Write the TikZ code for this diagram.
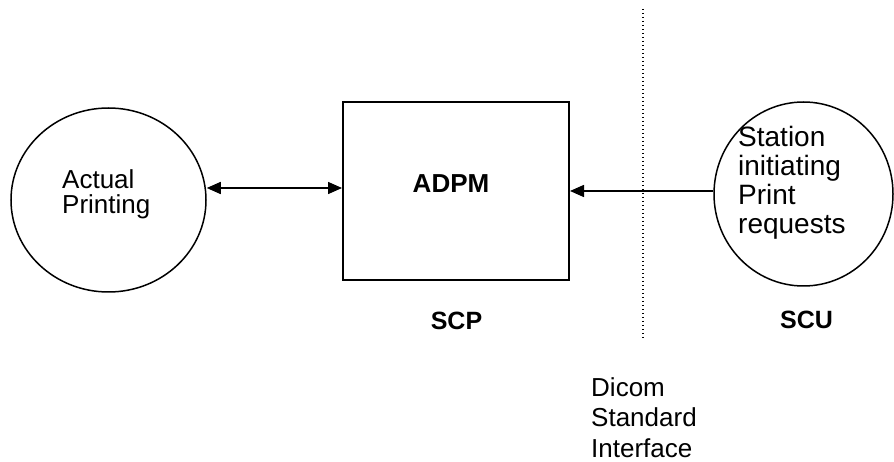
\documentclass[tikz,border=0pt]{standalone}
\usepackage{fontspec}
\setmainfont{Liberation Sans}
\usetikzlibrary{shapes.geometric,arrows.meta}
\tikzset{
  x=1pt, y=-1pt,
  bubble/.style={draw, ellipse, line width=1.5pt, inner sep=0pt},
  unitbox/.style={draw, rectangle, line width=2pt, inner sep=0pt},
  % multi-line labels are placed by the baseline of their last line
  label text/.style={inner sep=0pt, anchor=base west, align=left},
  tag text/.style={inner sep=0pt, anchor=base, font=\fontsize{25}{30}\selectfont\bfseries},
  flow/.style={line width=1.5pt, -{Triangle[length=14pt,width=12pt]}},
  bothflow/.style={line width=1.5pt, {Triangle[length=14pt,width=12pt]}-{Triangle[length=14pt,width=12pt]}},
  boundary/.style={line width=1.2pt, dash pattern=on 1.2pt off 2.8pt},
}
\begin{document}
\begin{tikzpicture}
\useasboundingbox (0,0) rectangle (894,462);
% processes and the print manager
\node[bubble, minimum width=195pt, minimum height=184pt] (actual) at (108.5,200) {};
\node[unitbox, minimum width=226pt, minimum height=178pt] (adpm) at (456,191) {};
\node[bubble, minimum width=179pt, minimum height=184pt] (station) at (803.5,194) {};
% texts
\node[label text, font=\fontsize{26}{25.5}\selectfont] (tactual) at (62,214) {Actual\\Printing};
\node[tag text, font=\fontsize{26}{30}\selectfont\bfseries] (tadpm) at (451,193) {ADPM};
\node[label text, font=\fontsize{28}{29}\selectfont] (tstation) at (738,234) {Station\\initiating\\Print\\requests};
\node[tag text] (tscp) at (456.5,329) {SCP};
\node[tag text] (tscu) at (806.5,328) {SCU};
\node[label text, font=\fontsize{26}{30.5}\selectfont] (tdicom) at (591,457) {Dicom\\Standard\\Interface};
% interface boundary
\coordinate (btop) at (643,9);
\coordinate (bbot) at (643,339);
\draw[boundary] (btop) -- (bbot);
% connectors
\draw[bothflow] ([yshift=12pt]actual.east) -- ([yshift=3pt]adpm.west);
\draw[flow] ([yshift=3pt]station.west) -- (adpm.east);
\end{tikzpicture}
\end{document}
